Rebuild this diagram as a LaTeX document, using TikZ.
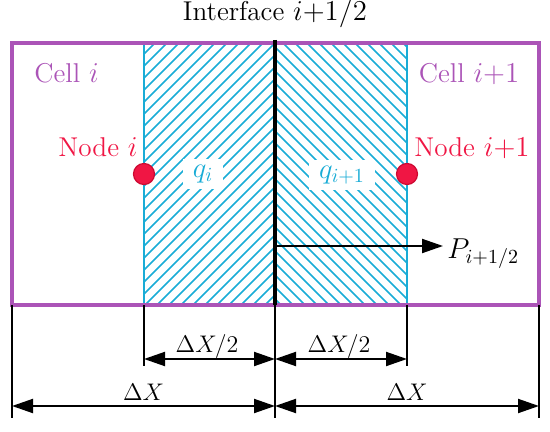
\documentclass[tikz,border=0pt]{standalone}
\usetikzlibrary{arrows.meta}
\definecolor{cellpurple}{RGB}{171,84,183}
\definecolor{hatchcyan}{RGB}{25,172,214}
\definecolor{nodered}{RGB}{240,22,68}
\definecolor{nodeedge}{RGB}{205,10,50}
\begin{document}
\begin{tikzpicture}[x=0.5pt,y=-0.5pt,
  font=\fontsize{13.6pt}{16pt}\selectfont,
  hatchline/.style={hatchcyan, line width=0.75pt},
  tip/.tip={Triangle[length=10.5pt,width=7pt]},
  dimline/.style={line width=1pt, tip-tip},
  extline/.style={line width=1pt},
  celllabel/.style={text=cellpurple, anchor=base},
  nodelabel/.style={text=nodered, anchor=base},
  qlabel/.style={text=hatchcyan, fill=white, inner xsep=5pt, inner ysep=3pt},
  dimlabel/.style={anchor=base, inner sep=0pt, font=\fontsize{12.2pt}{14pt}\selectfont},
  nodedot/.style={circle, fill=nodered, draw=nodeedge, line width=0.6pt, minimum size=10.5pt, inner sep=0pt}]
\useasboundingbox (0,0) rectangle (550,432);
% key coordinates
\coordinate (tl) at (12,43);
\coordinate (br) at (539,305);
\coordinate (itop) at (275,40);
\coordinate (ibot) at (275,305);
% hatching
\begin{scope}
  \clip (144,43) rectangle (275,305);
  \foreach \c in {150,162,...,600} {
    \draw[hatchline] (\c-310,310) -- (\c+10,-10);
  }
\end{scope}
\begin{scope}
  \clip (275,43) rectangle (407,305);
  \foreach \c in {-60,-48,...,420} {
    \draw[hatchline] (\c-10,-10) -- (\c+320,320);
  }
\end{scope}
\draw[hatchcyan, line width=1pt] (144,43) -- (144,305);
\draw[hatchcyan, line width=1pt] (407,43) -- (407,305);
% q labels
\node[qlabel] (qi) at (203,174) {$q_i$};
\node[qlabel] (qip) at (342,175) {$q_{i+1}$};
% cells
\draw[cellpurple, line width=2pt] (tl) rectangle (br);
% interface
\draw[line width=2pt] (itop) -- (ibot);
\node[anchor=base] (iface) at (275,21) {Interface $i{+}1/2$};
% labels
\node[celllabel] (ci) at (66.5,83) {Cell $i$};
\node[celllabel] (cip) at (469,83) {Cell $i{+}1$};
\node[nodelabel] (ni) at (98,157) {Node $i$};
\node[nodelabel] (nip) at (472,157) {Node $i{+}1$};
\node[nodedot] (di) at (144,174) {};
\node[nodedot] (dip) at (407,174) {};
% P arrow
\coordinate (ps) at (275,246);
\coordinate (pe) at (443,246);
\draw[line width=1pt, -tip] (ps) -- (pe);
\node[anchor=base west, inner sep=0pt] (pl) at (447,258) {$P_{i+1/2}$};
% extension lines
\coordinate (e1) at (12,418);
\coordinate (e2) at (144,366);
\coordinate (e3) at (275,418);
\coordinate (e4) at (407,366);
\coordinate (e5) at (539,418);
\draw[extline] (12,305) -- (e1);
\draw[extline] (144,305) -- (e2);
\draw[extline] (ibot) -- (e3);
\draw[extline] (407,305) -- (e4);
\draw[extline] (539,305) -- (e5);
% dimensions
\coordinate (h1) at (144,359);
\coordinate (h2) at (275,359);
\coordinate (h3) at (407,359);
\coordinate (f1) at (12,406);
\coordinate (f2) at (275,406);
\coordinate (f3) at (539,406);
\draw[dimline] (h1) -- (h2);
\draw[dimline] (h2) -- (h3);
\draw[dimline] (f1) -- (f2);
\draw[dimline] (f2) -- (f3);
\node[dimlabel] (dl1) at (207,352) {$\Delta X/2$};
\node[dimlabel] (dl2) at (339,352) {$\Delta X/2$};
\node[dimlabel] (dl3) at (143.5,400) {$\Delta X$};
\node[dimlabel] (dl4) at (407,400) {$\Delta X$};
\end{tikzpicture}
\end{document}
